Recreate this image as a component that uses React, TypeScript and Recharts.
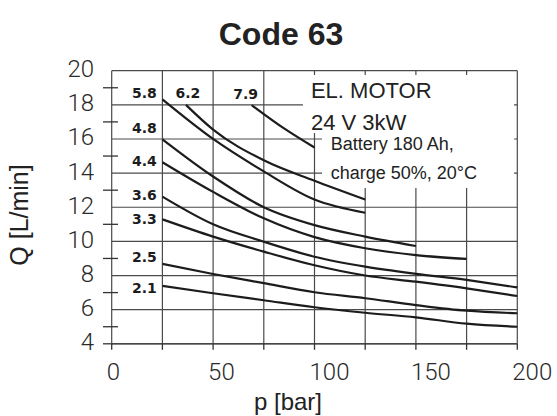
import React from "react";
import {
  LineChart,
  Line,
  XAxis,
  YAxis,
  CartesianGrid,
  ReferenceArea,
  LabelList,
} from "recharts";

// axes
const pressureTicks = [0, 25, 50, 75, 100, 125, 150, 175, 200];
const flowTicks = [4, 5, 6, 7, 8, 9, 10, 11, 12, 13, 14, 15, 16, 17, 18, 19, 20];
const flowGrid = [4, 6, 8, 10, 12, 14, 16, 18, 20];

// pressure points (bar) of the curves
const pFull = [25, 50, 75, 100, 125, 150, 175, 200];
const p44 = [25, 50, 75, 100, 125, 150, 175];
const p48 = [25, 50, 75, 100, 125, 150];
const p58 = [25, 50, 75, 100, 125];
const p62 = [36.6, 50, 75, 100, 125];
const p79 = [69, 85, 100];

// flow Q (L/min)
const q21 = [7.39, 6.96, 6.55, 6.14, 5.82, 5.55, 5.18, 5.0];
const q25 = [8.68, 8.09, 7.55, 7.02, 6.67, 6.27, 5.94, 5.79];
const q33 = [11.29, 10.28, 9.4, 8.6, 8.0, 7.64, 7.25, 6.8];
const q36 = [12.62, 11.0, 9.98, 9.1, 8.52, 8.1, 7.75, 7.3];
const q44 = [14.64, 12.9, 11.35, 10.25, 9.6, 9.2, 8.97];
const q48 = [15.98, 13.8, 12.0, 10.95, 10.28, 9.73];
const q58 = [18.32, 16.0, 14.1, 12.45, 11.68];
const q62 = [18.0, 16.55, 14.75, 13.55, 12.45];
const q79 = [17.99, 16.62, 15.5];

const curveNames = ["2.1", "2.5", "3.3", "3.6", "4.4", "4.8", "5.8", "6.2", "7.9"];
const curvePressures = [pFull, pFull, pFull, pFull, p44, p48, p58, p62, p79];
const curveFlows = [q21, q25, q33, q36, q44, q48, q58, q62, q79];

// where each curve's tag sits relative to its first point (px)
const tagOffset: Record<string, [number, number]> = {
  "2.1": [-18, 2],
  "2.5": [-18, -7],
  "3.3": [-18, 0],
  "3.6": [-18, -2],
  "4.4": [-18, -1],
  "4.8": [-18, -11],
  "5.8": [-18, -6],
  "6.2": [2, -11.5],
  "7.9": [-6, -11.5],
};

const INK = "#1c1c1c";
const GRID = "#4a4a4a";
const tickFont = { fontFamily: "Roboto", fontWeight: 300, fontSize: 24, fill: "#2a2a2a" };
const sans = "'Liberation Sans', Arial, sans-serif";

function buildCurve(ps: number[], qs: number[]) {
  return qs.map((q, i) => ({ p: ps[i], q }));
}

function FlowTick(props: any) {
  const { x, y, payload } = props;
  const v = Number(payload.value);
  const isLabel = v % 2 === 0;
  const hasMark = !isLabel || v === 4;
  return (
    <g>
      {hasMark ? (
        <path
          d={`M${x - 8.7},${y}H${isLabel ? x : x + 6.3}`}
          stroke="#333"
          strokeWidth={1.3}
          fill="none"
        />
      ) : null}
      {isLabel ? (
        <text x={x - 17.7} y={y + 6.5} textAnchor="end" {...tickFont} stroke="none">
          {v}
        </text>
      ) : null}
    </g>
  );
}

function PressureTick(props: any) {
  const { x, y, payload } = props;
  const v = Number(payload.value);
  return (
    <g>
      <path d={`M${x},${y - 6}V${y}`} stroke="#333" strokeWidth={1.3} fill="none" />
      {v % 50 === 0 ? (
        <text x={x - 5} y={y + 29.7} textAnchor="start" {...tickFont} stroke="none">
          {v}
        </text>
      ) : null}
    </g>
  );
}

function CurveTag(props: any) {
  const { x, y, index, name } = props;
  if (index !== 0) return null;
  const [dx, dy] = tagOffset[name];
  return (
    <text
      x={x + dx}
      y={y + dy + 5}
      textAnchor="middle"
      fontFamily="DejaVu Sans"
      fontWeight="bold"
      fontSize={14}
      fill={INK}
    >
      {name}
    </text>
  );
}

function NoteText(props: any) {
  const { viewBox, lines, size, dx, firstDy, gap } = props;
  if (!viewBox) return null;
  return (
    <g>
      {lines.map((t: string, i: number) => (
        <text
          key={t}
          x={viewBox.x + dx}
          y={viewBox.y + firstDy + i * gap}
          fontFamily={sans}
          fontSize={size}
          fill="#222"
        >
          {t}
        </text>
      ))}
    </g>
  );
}

export default function App() {
  return (
    <div style={{ position: "absolute", left: 0, top: 0, width: 557, height: 416, background: "#fff" }}>
      <LineChart
        width={557}
        height={416}
        margin={{ top: 70.7, right: 39.7, bottom: 22.2, left: 0 }}
      >
        <CartesianGrid
          stroke={GRID}
          strokeWidth={1.2}
          horizontalValues={flowGrid}
          verticalValues={pressureTicks}
        />
        <XAxis
          type="number"
          dataKey="p"
          domain={[0, 200]}
          ticks={pressureTicks}
          interval={0}
          height={50}
          tickSize={6}
          tickMargin={0}
          tickLine={false}
          stroke="#333"
          tick={<PressureTick />}
        />
        <YAxis
          type="number"
          dataKey="q"
          domain={[4, 20]}
          ticks={flowTicks}
          interval={0}
          minTickGap={0}
          width={111.7}
          tickSize={0}
          tickMargin={0}
          tickLine={false}
          axisLine={false}
          tick={<FlowTick />}
        />
        <ReferenceArea
          x1={94.3}
          x2={198.4}
          y1={16.35}
          y2={19.75}
          fill="#fff"
          fillOpacity={1}
          stroke="none"
          label={<NoteText lines={["EL. MOTOR", "24 V 3kW"]} size={22} dx={8} firstDy={23.3} gap={31.7} />}
        />
        <ReferenceArea
          x1={103.7}
          x2={198.4}
          y1={13.13}
          y2={16.35}
          fill="#fff"
          fillOpacity={1}
          stroke="none"
          label={<NoteText lines={["Battery 180 Ah,", "charge 50%, 20°C"]} size={18} dx={8.7} firstDy={17} gap={29} />}
        />
        {curveNames.map((name, i) => (
          <Line
            key={name}
            data={buildCurve(curvePressures[i], curveFlows[i])}
            dataKey="q"
            type="monotone"
            stroke={INK}
            strokeWidth={2.2}
            dot={false}
            isAnimationActive={false}
          >
            <LabelList dataKey="q" content={(p: any) => <CurveTag {...p} name={name} />} />
          </Line>
        ))}
        <text x={281} y={45} textAnchor="middle" fontFamily={sans} fontWeight="bold" fontSize={32} fill="#222">
          Code 63
        </text>
        <text x={288} y={410} textAnchor="middle" fontFamily={sans} fontSize={24} fill="#222">
          p [bar]
        </text>
        <text
          x={27.5}
          y={215}
          textAnchor="middle"
          fontFamily={sans}
          fontSize={25}
          fill="#222"
          transform="rotate(-90 27.5 215)"
        >
          Q [L/min]
        </text>
      </LineChart>
    </div>
  );
}
